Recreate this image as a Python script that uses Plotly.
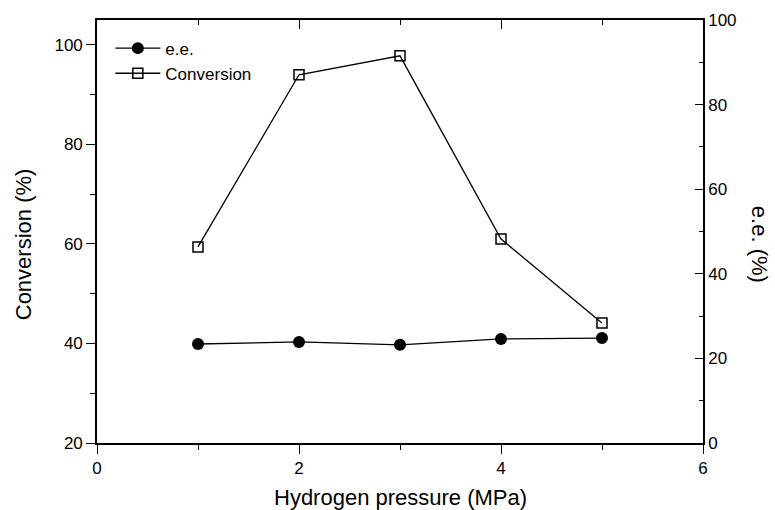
import plotly.graph_objects as go

# Data
pressure = [1, 2, 3, 4, 5]                      # Hydrogen pressure (MPa)
conversion = [59.4, 94.0, 97.8, 61.0, 44.1]      # Conversion (%) - left axis
ee = [23.4, 23.9, 23.2, 24.6, 24.8]              # e.e. (%) - right axis

left_ticks = [20, 40, 60, 80, 100]
right_ticks = [0, 20, 40, 60, 80, 100]
x_ticks = [0, 2, 4, 6]

FONT = "Liberation Sans, Arial, sans-serif"

fig = go.Figure()
fig.add_trace(go.Scatter(
    x=pressure, y=ee, name="e.e.", mode="lines+markers",
    xaxis="x2", yaxis="y2", legendgroup="a",
    line=dict(color="black", width=1.3),
    marker=dict(symbol="circle", size=12, color="black"),
))
fig.add_trace(go.Scatter(
    x=pressure, y=conversion, name="Conversion", mode="lines+markers",
    xaxis="x", yaxis="y", legendgroup="b",
    line=dict(color="black", width=1.3),
    marker=dict(symbol="square-open", size=10, color="black", line=dict(width=1.5)),
))

axis_common = dict(showgrid=False, zeroline=False, showline=True, linecolor="black",
                   linewidth=1.6, tickcolor="black", tickwidth=1.4,
                   tickfont=dict(family=FONT, size=17, color="black"))

fig.update_layout(
    width=775, height=510,
    margin=dict(l=97, r=72, t=20, b=67),
    paper_bgcolor="white", plot_bgcolor="white",
    showlegend=True,
    legend=dict(x=0.022, y=0.975, xanchor="left", yanchor="top",
                font=dict(family=FONT, size=17, color="black"),
                bgcolor="rgba(0,0,0,0)", tracegroupgap=0, itemwidth=45),
    xaxis=dict(range=[0, 6], tickvals=x_ticks, ticks="outside", ticklen=9,
               minor=dict(dtick=1, ticks="outside", ticklen=5, tickcolor="black", tickwidth=1.4),
               anchor="y", **axis_common),
    xaxis2=dict(range=[0, 6], tickvals=x_ticks, ticks="inside", ticklen=9,
                minor=dict(dtick=1, ticks="inside", ticklen=5, tickcolor="black", tickwidth=1.4),
                overlaying="x", side="top", anchor="y2", showticklabels=False,
                **axis_common),
    yaxis=dict(range=[20, 105], tickvals=left_ticks, ticks="outside", ticklen=9,
               minor=dict(tick0=0, dtick=10, ticks="outside", ticklen=5, tickcolor="black", tickwidth=1.4),
               anchor="x", **axis_common),
    yaxis2=dict(range=[0, 100], tickvals=right_ticks, ticks="inside", ticklen=8,
                minor=dict(tick0=0, dtick=10, ticks="inside", ticklen=4, tickcolor="black", tickwidth=1.4),
                overlaying="y", side="right", anchor="x2", **axis_common),
    annotations=[
        dict(text="Hydrogen pressure (MPa)", xref="paper", yref="paper", x=0.5, y=-0.13,
             xanchor="center", yanchor="middle", showarrow=False,
             font=dict(family=FONT, size=22, color="black")),
        dict(text="Conversion (%)", xref="paper", yref="paper", x=-0.122, y=0.47,
             xanchor="center", yanchor="middle", showarrow=False, textangle=-90,
             font=dict(family=FONT, size=22, color="black")),
        dict(text="e.e. (%)", xref="paper", yref="paper", x=1.093, y=0.47,
             xanchor="center", yanchor="middle", showarrow=False, textangle=90,
             font=dict(family=FONT, size=22, color="black")),
    ],
)

fig.write_html("out.html")
